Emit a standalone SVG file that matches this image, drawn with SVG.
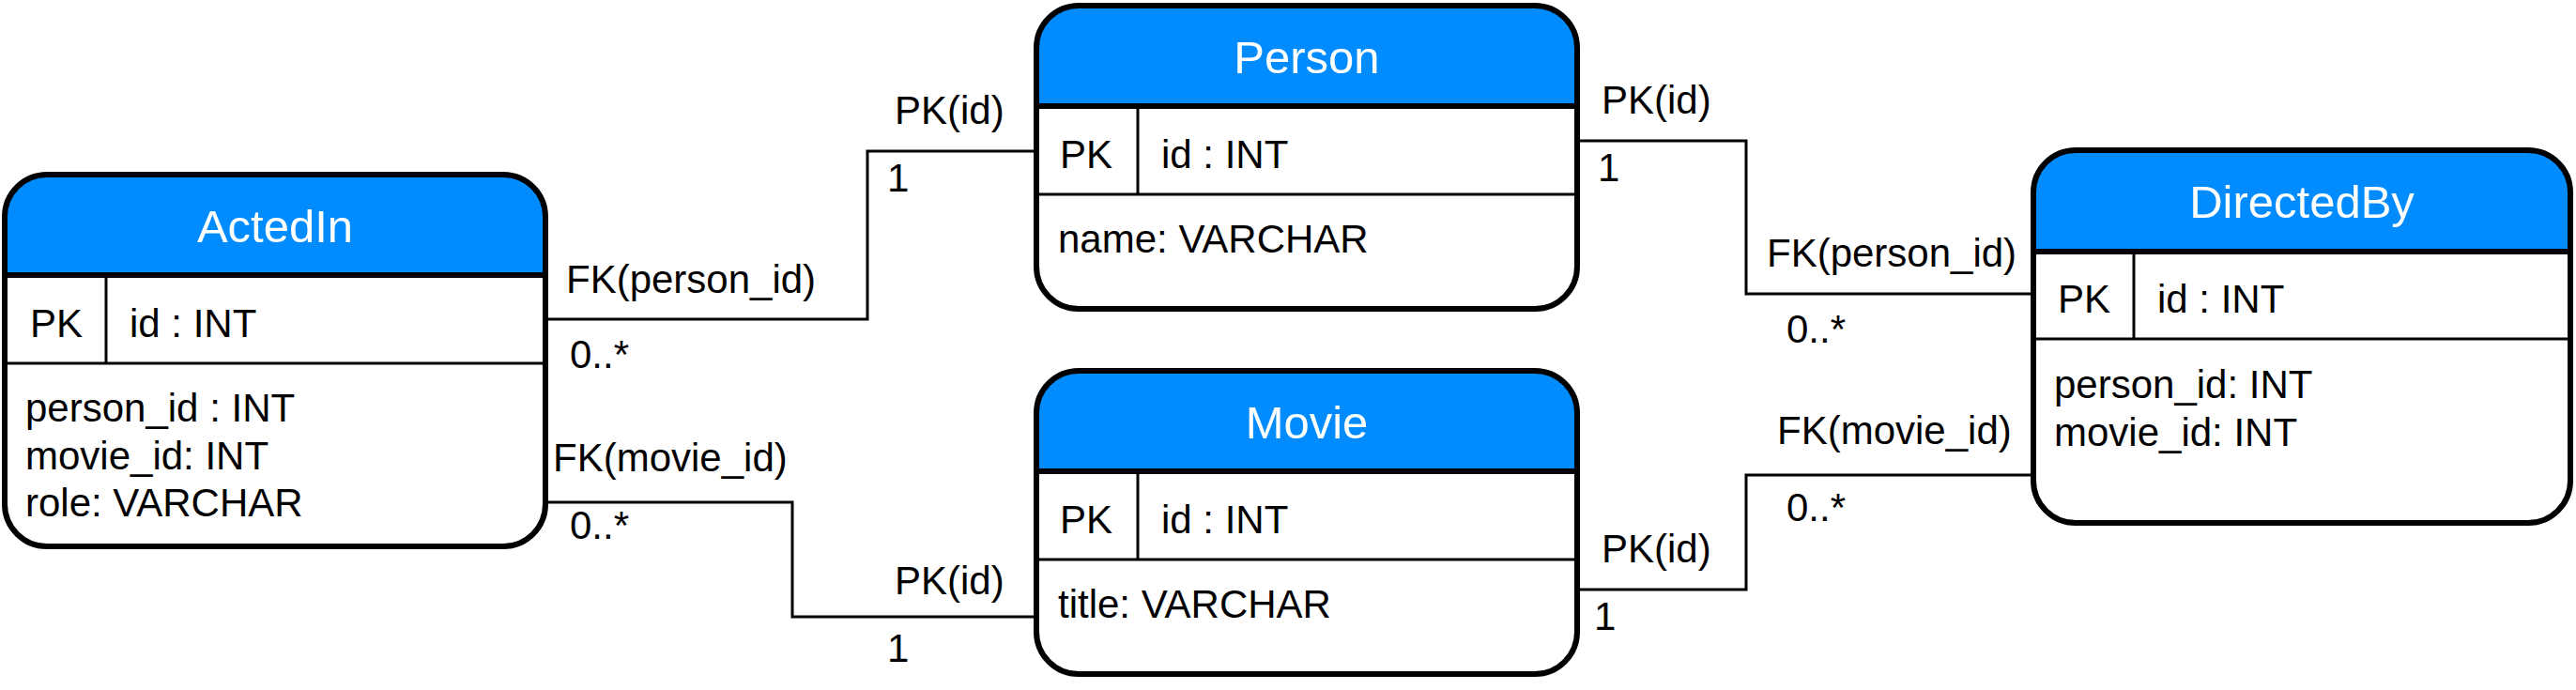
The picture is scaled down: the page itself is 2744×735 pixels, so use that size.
<svg xmlns="http://www.w3.org/2000/svg" width="2744" height="735" viewBox="0 0 2744 735">
<style>
text{font-family:"Liberation Sans",Arial,Helvetica,sans-serif;font-size:42px;fill:#000}
.title{font-size:49px;fill:#fff;text-anchor:middle}
.hdr{fill:#008CFF;stroke:none}
.outline{fill:none;stroke:#000;stroke-width:6}
.thick{stroke:#000;stroke-width:6;fill:none}
.thin{stroke:#000;stroke-width:3;fill:none}
.conn{fill:none;stroke:#000;stroke-width:3}
</style>
<rect width="2744" height="735" fill="#fff"/>
<g id="connectors">
<path class="conn" d="M581,340 H924 V161 H1104"/>
<path class="conn" d="M581,535 H844 V657 H1104"/>
<path class="conn" d="M1680,150 H1860 V313 H2166"/>
<path class="conn" d="M1680,628 H1860 V506 H2166"/>
<text x="603" y="312">FK(person_id)</text>
<text x="607" y="392">0..*</text>
<text x="953" y="132">PK(id)</text>
<text x="945" y="204">1</text>
<text x="589" y="502">FK(movie_id)</text>
<text x="607" y="574">0..*</text>
<text x="953" y="633">PK(id)</text>
<text x="945" y="705">1</text>
<text x="1706" y="121">PK(id)</text>
<text x="1702" y="193">1</text>
<text x="1882" y="284">FK(person_id)</text>
<text x="1903" y="365">0..*</text>
<text x="1706" y="599">PK(id)</text>
<text x="1698" y="671">1</text>
<text x="1893" y="473">FK(movie_id)</text>
<text x="1903" y="555">0..*</text>
</g>
<g id="ActedIn">
<rect x="5" y="186" width="576" height="396" rx="45" fill="#fff"/>
<path class="hdr" d="M5,293 V231 A45,45 0 0 1 50,186 H536 A45,45 0 0 1 581,231 V293 Z"/>
<line class="thick" x1="5" y1="293" x2="581" y2="293"/>
<line class="thin" x1="5" y1="387" x2="581" y2="387"/>
<line class="thin" x1="113" y1="293" x2="113" y2="387"/>
<rect class="outline" x="5" y="186" width="576" height="396" rx="45"/>
<text class="title" x="293" y="258">ActedIn</text>
<text x="32" y="359">PK</text>
<text x="138" y="359">id : INT</text>
<text x="27" y="449">person_id : INT</text>
<text x="27" y="500">movie_id: INT</text>
<text x="27" y="550">role: VARCHAR</text>
</g>
<g id="Person">
<rect x="1104" y="6" width="576" height="323" rx="45" fill="#fff"/>
<path class="hdr" d="M1104,113 V51 A45,45 0 0 1 1149,6 H1635 A45,45 0 0 1 1680,51 V113 Z"/>
<line class="thick" x1="1104" y1="113" x2="1680" y2="113"/>
<line class="thin" x1="1104" y1="207" x2="1680" y2="207"/>
<line class="thin" x1="1212" y1="113" x2="1212" y2="207"/>
<rect class="outline" x="1104" y="6" width="576" height="323" rx="45"/>
<text class="title" x="1392" y="78">Person</text>
<text x="1129" y="179">PK</text>
<text x="1237" y="179">id : INT</text>
<text x="1127" y="269">name: VARCHAR</text>
</g>
<g id="Movie">
<rect x="1104" y="395" width="576" height="323" rx="45" fill="#fff"/>
<path class="hdr" d="M1104,502 V440 A45,45 0 0 1 1149,395 H1635 A45,45 0 0 1 1680,440 V502 Z"/>
<line class="thick" x1="1104" y1="502" x2="1680" y2="502"/>
<line class="thin" x1="1104" y1="596" x2="1680" y2="596"/>
<line class="thin" x1="1212" y1="502" x2="1212" y2="596"/>
<rect class="outline" x="1104" y="395" width="576" height="323" rx="45"/>
<text class="title" x="1392" y="467">Movie</text>
<text x="1129" y="568">PK</text>
<text x="1237" y="568">id : INT</text>
<text x="1127" y="658">title: VARCHAR</text>
</g>
<g id="DirectedBy">
<rect x="2166" y="160" width="572" height="397" rx="45" fill="#fff"/>
<path class="hdr" d="M2166,268 V205 A45,45 0 0 1 2211,160 H2693 A45,45 0 0 1 2738,205 V268 Z"/>
<line class="thick" x1="2166" y1="268" x2="2738" y2="268"/>
<line class="thin" x1="2166" y1="361" x2="2738" y2="361"/>
<line class="thin" x1="2273" y1="268" x2="2273" y2="361"/>
<rect class="outline" x="2166" y="160" width="572" height="397" rx="45"/>
<text class="title" x="2452" y="232">DirectedBy</text>
<text x="2192" y="333">PK</text>
<text x="2298" y="333">id : INT</text>
<text x="2188" y="424">person_id: INT</text>
<text x="2188" y="475">movie_id: INT</text>
</g>
</svg>
